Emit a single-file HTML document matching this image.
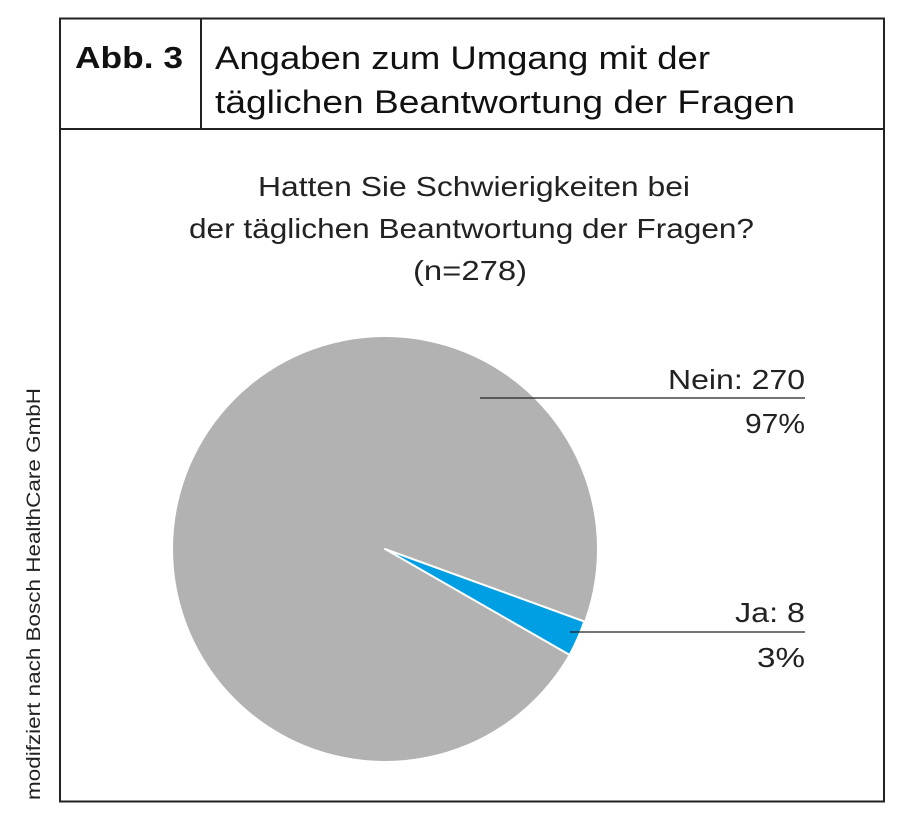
<!DOCTYPE html>
<html><head><meta charset="utf-8"><style>
body{margin:0;background:#fff;}
svg{display:block;font-family:"Liberation Sans",sans-serif;}
</style></head><body>
<svg width="903" height="835" viewBox="0 0 903 835">
<rect x="60" y="18.5" width="824" height="783" fill="none" stroke="#222" stroke-width="2"/>
<line x1="60" y1="129" x2="884" y2="129" stroke="#222" stroke-width="2"/>
<line x1="201" y1="18" x2="201" y2="129" stroke="#222" stroke-width="2"/>
<text x="75" y="68" font-size="31" font-weight="bold" fill="#111" textLength="108" lengthAdjust="spacingAndGlyphs">Abb. 3</text>
<text x="215" y="69" font-size="32" fill="#111" textLength="495" lengthAdjust="spacingAndGlyphs">Angaben zum Umgang mit der</text>
<text x="215" y="113" font-size="32" fill="#111" textLength="580" lengthAdjust="spacingAndGlyphs">täglichen Beantwortung der Fragen</text>
<g font-size="28" fill="#222">
<text x="258" y="196" textLength="432" lengthAdjust="spacingAndGlyphs">Hatten Sie Schwierigkeiten bei</text>
<text x="189" y="238" textLength="565" lengthAdjust="spacingAndGlyphs">der täglichen Beantwortung der Fragen?</text>
<text x="413" y="280" textLength="114" lengthAdjust="spacingAndGlyphs">(n=278)</text>
</g>
<text transform="translate(40,800) rotate(-90)" font-size="19" fill="#222" textLength="412" lengthAdjust="spacingAndGlyphs">modifziert nach Bosch HealthCare GmbH</text>
<circle cx="385" cy="549" r="212" fill="#b2b2b2"/>
<path d="M385 549 L584.3 621.5 A212 212 0 0 1 569.6 654.9 Z" fill="#009fe3" stroke="#fff" stroke-width="2" stroke-linejoin="round"/>
<line x1="480" y1="398" x2="805" y2="398" stroke="#222" stroke-width="1.2"/>
<line x1="570" y1="632" x2="805" y2="632" stroke="#222" stroke-width="1.2"/>
<g font-size="28" fill="#222">
<text x="668" y="389" textLength="137" lengthAdjust="spacingAndGlyphs">Nein: 270</text>
<text x="745" y="433" textLength="60" lengthAdjust="spacingAndGlyphs">97%</text>
<text x="735" y="622" textLength="70" lengthAdjust="spacingAndGlyphs">Ja: 8</text>
<text x="757" y="667" textLength="48" lengthAdjust="spacingAndGlyphs">3%</text>
</g>
</svg>
</body></html>
